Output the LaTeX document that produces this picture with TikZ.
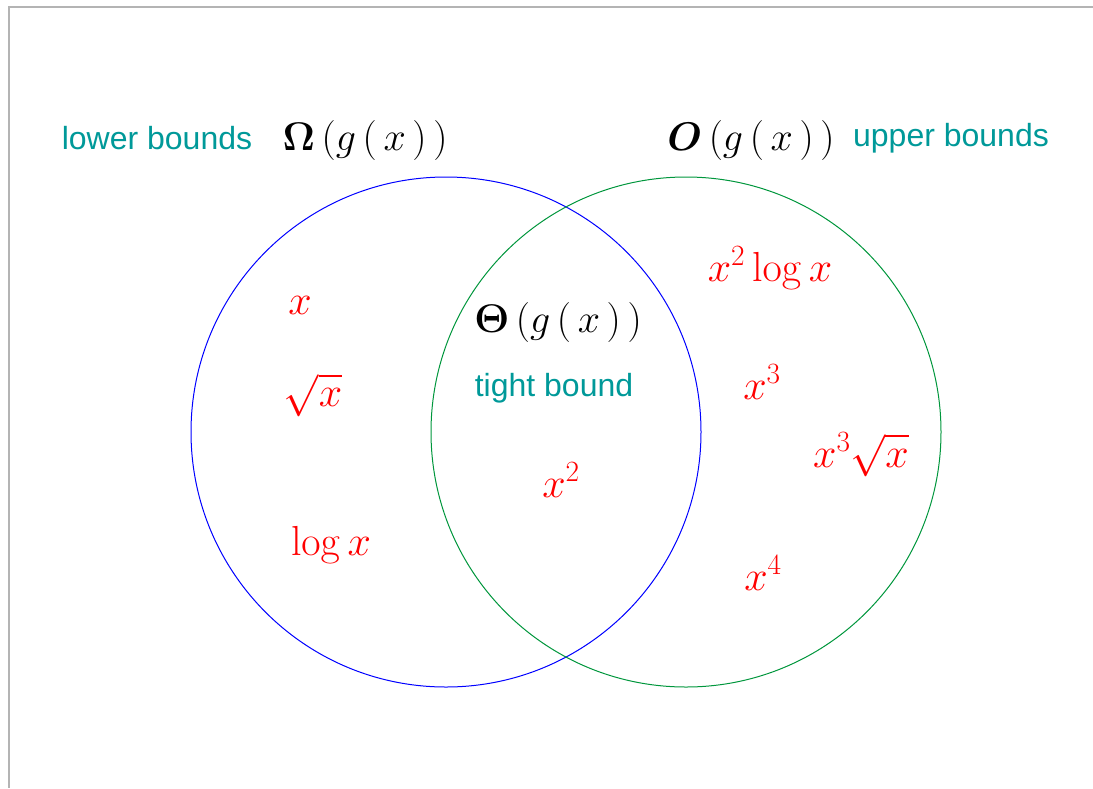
\RequirePackage{fix-cm}
\documentclass[tikz,border=0pt]{standalone}
\usepackage{amsmath,amssymb,bm}
\usepackage[no-math]{fontspec}
\newfontfamily\boundfont{Liberation Sans}
\usepackage{tikz}
\usetikzlibrary{positioning}
\definecolor{boundteal}{RGB}{0,153,153}
\definecolor{upgreen}{RGB}{0,150,60}
\definecolor{framegray}{RGB}{180,180,180}

\begin{document}
\begin{tikzpicture}[
    x=1pt, y=-1pt,
    bound/.style={
      text=boundteal,
      font=\boundfont\fontsize{32}{38}\selectfont,
      inner sep=0pt
    },
    setname/.style={
      text=black,
      font=\fontsize{40}{48}\selectfont,
      inner sep=0pt
    },
    func/.style={
      text=red,
      font=\fontsize{42}{50}\selectfont,
      inner sep=0pt
    },
    region/.style={
      circle,
      line width=1pt,
      minimum size=510pt,
      inner sep=0pt
    }
  ]
  \useasboundingbox (0,0) rectangle (1093,788);

  % frame
  \coordinate (fTR) at (1093,7);
  \coordinate (fTL) at (9,7);
  \coordinate (fBL) at (9,788);
  \draw[framegray, line width=1.2pt] (fTR) -- (fTL) -- (fBL);

  % the two sets
  \node[region, draw=blue] (lower) at (446,432) {};
  \node[region, draw=upgreen] (upper) at (686,432) {};

  % set names
  \node[bound] (lowtxt) at (157,138) {lower bounds};
  \node[setname] (omega) at (365,140) {$\bm{\Omega}\,(g\,(\,x\,)\,)$};
  \node[setname] (bigo) at (751,140) {$\bm{O}\,(g\,(\,x\,)\,)$};
  \node[bound] (uptxt) at (951,138) {upper bounds};
  \node[setname] (theta) at (558,322) {$\bm{\Theta}\,(g\,(\,x\,)\,)$};
  \node[bound] (tighttxt) at (554,388) {tight bound};

  % functions in the lower set
  \node[func] (fx) at (300,305) {$x$};
  \node[func] (fsqrt) at (313,395) {$\sqrt{x}$};
  \node[func] (flog) at (331,545) {$\log x$};

  % function in both
  \node[func] (fsq) at (561,480) {$x^{2}$};

  % functions in the upper set
  \node[func] (fsqlog) at (770,268) {$x^{2}\log x$};
  \node[func] (fcube) at (762,382) {$x^{3}$};
  \node[func] (fcubesqrt) at (861,455) {$x^{3}\sqrt{x}$};
  \node[func] (fquart) at (763,573) {$x^{4}$};
\end{tikzpicture}
\end{document}
